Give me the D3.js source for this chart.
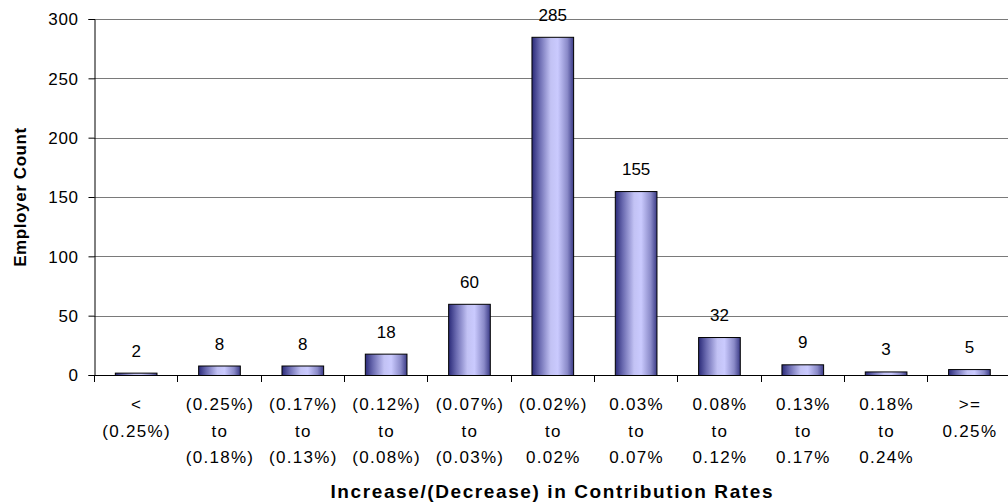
<!DOCTYPE html>
<html>
<head>
<meta charset="utf-8">
<script src="https://cdn.jsdelivr.net/npm/d3@7"></script>
<style>
  html, body { margin: 0; padding: 0; background: #fff; }
  svg text { font-family: "Liberation Sans", Arial, sans-serif; fill: #000; }
</style>
</head>
<body>
<svg id="chart" width="1008" height="504"></svg>
<script>
// Distribution of employers by change in contribution rate
const categories = [
  ["<", "(0.25%)"],
  ["(0.25%)", "to", "(0.18%)"],
  ["(0.17%)", "to", "(0.13%)"],
  ["(0.12%)", "to", "(0.08%)"],
  ["(0.07%)", "to", "(0.03%)"],
  ["(0.02%)", "to", "0.02%"],
  ["0.03%", "to", "0.07%"],
  ["0.08%", "to", "0.12%"],
  ["0.13%", "to", "0.17%"],
  ["0.18%", "to", "0.24%"],
  [">=", "0.25%"]
];
const counts = [2, 8, 8, 18, 60, 285, 155, 32, 9, 3, 5];
const yTicks = [0, 50, 100, 150, 200, 250, 300];
const xTitle = "Increase/(Decrease) in Contribution Rates";
const yTitle = "Employer Count";

const svg = d3.select("#chart");
const plot = { left: 94, right: 1010.6, top: 19, bottom: 375 };

const x = d3.scaleBand()
  .domain(d3.range(categories.length))
  .range([plot.left, plot.right])
  .paddingInner(0.5)
  .paddingOuter(0.25);

const y = d3.scaleLinear()
  .domain([0, 300])
  .range([plot.bottom, plot.top]);

// bar fill: dark edges, pale centre
const defs = svg.append("defs");
const grad = defs.append("linearGradient")
  .attr("id", "barFill")
  .attr("x1", "0%").attr("x2", "100%").attr("y1", "0%").attr("y2", "0%");
[
  [0, "#2a2a78"], [0.18, "#6a6ab0"], [0.45, "#c2c2f4"],
  [0.62, "#cacafe"], [0.85, "#8a8ac8"], [1, "#3a3a86"]
].forEach(([o, c]) => grad.append("stop").attr("offset", o).attr("stop-color", c));

// horizontal gridlines
svg.append("g")
  .selectAll("line")
  .data(yTicks.filter(d => d > 0))
  .join("line")
  .attr("x1", plot.left).attr("x2", plot.right)
  .attr("y1", d => Math.round(y(d)) + 0.5).attr("y2", d => Math.round(y(d)) + 0.5)
  .attr("stroke", "#7a7a7a").attr("stroke-width", 1);

// y axis
const yAxis = d3.axisLeft(y).tickValues(yTicks).tickSize(6).tickPadding(10);
const gy = svg.append("g")
  .attr("transform", `translate(${plot.left + 0.5},0)`)
  .call(yAxis);
gy.select(".domain").attr("stroke", "#000");
gy.selectAll(".tick line").attr("stroke", "#000");
gy.selectAll(".tick text")
  .attr("font-size", 17)
  .attr("font-family", "Liberation Sans, Arial, sans-serif")
  .attr("letter-spacing", 0.6)
  .attr("dy", "0.34em");

// bars
svg.append("g")
  .selectAll("rect")
  .data(counts)
  .join("rect")
  .attr("x", (d, i) => x(i) + 0.5)
  .attr("y", d => y(d) + 0.5)
  .attr("width", x.bandwidth())
  .attr("height", d => y(0) - y(d))
  .attr("fill", "url(#barFill)")
  .attr("stroke", "#000")
  .attr("stroke-width", 1);

// value labels
svg.append("g")
  .selectAll("text")
  .data(counts)
  .join("text")
  .attr("x", (d, i) => x(i) + x.bandwidth() / 2 + 0.5)
  .attr("y", d => y(d) - 16)
  .attr("text-anchor", "middle")
  .attr("font-size", 17)
  .text(d => d);

// x axis baseline and category boundary ticks
const step = x.step();
svg.append("line")
  .attr("x1", plot.left).attr("x2", plot.right)
  .attr("y1", plot.bottom + 0.5).attr("y2", plot.bottom + 0.5)
  .attr("stroke", "#000");
svg.append("g")
  .selectAll("line")
  .data(d3.range(categories.length + 1))
  .join("line")
  .attr("x1", i => Math.round(plot.left + i * step) + 0.5)
  .attr("x2", i => Math.round(plot.left + i * step) + 0.5)
  .attr("y1", plot.bottom).attr("y2", plot.bottom + 7)
  .attr("stroke", "#000");

// category labels (multi-line)
const catG = svg.append("g")
  .selectAll("text")
  .data(categories)
  .join("text")
  .attr("text-anchor", "middle")
  .attr("font-size", 17)
  .attr("letter-spacing", 1.3)
  .attr("transform", (d, i) => `translate(${x(i) + x.bandwidth() / 2 + 1},0)`);
catG.selectAll("tspan")
  .data(d => d)
  .join("tspan")
  .attr("x", 0)
  .attr("y", (d, j) => 410 + j * 26.5)
  .text(d => d);

// axis titles
svg.append("text")
  .attr("x", (plot.left + plot.right) / 2)
  .attr("y", 498)
  .attr("text-anchor", "middle")
  .attr("font-size", 19)
  .attr("font-weight", "bold")
  .attr("letter-spacing", 1.6)
  .text(xTitle);

svg.append("text")
  .attr("transform", `translate(26,${(plot.top + plot.bottom) / 2}) rotate(-90)`)
  .attr("text-anchor", "middle")
  .attr("font-size", 17)
  .attr("font-weight", "bold")
  .attr("letter-spacing", 0.6)
  .text(yTitle);
</script>
</body>
</html>
